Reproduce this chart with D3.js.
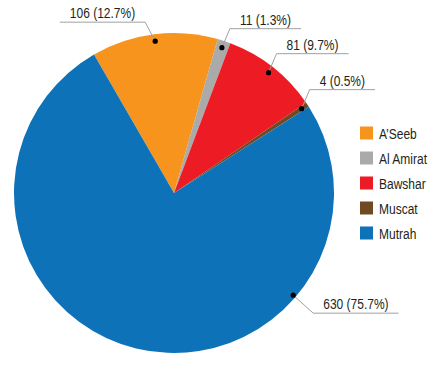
<!DOCTYPE html>
<html>
<head>
<meta charset="utf-8">
<script src="https://cdn.jsdelivr.net/npm/d3@7"></script>
<style>
  body{margin:0;background:#fff;}
  text{font-family:"Liberation Sans",Arial,sans-serif;fill:#231f20;}
</style>
</head>
<body>
<svg width="444" height="369"></svg>
<script>
const districts = ["A\u2019Seeb", "Al Amirat", "Bawshar", "Muscat", "Mutrah"];
const counts = [106, 11, 81, 4, 630];
const colours = ["#f7941d", "#aaaaaa", "#ed1c24", "#6f4a23", "#0e72b9"];

const svg = d3.select('svg');
const cx = 174, cy = 193, radius = 160;
const total = d3.sum(counts);
const deg = Math.PI / 180;
const squeeze = 0.8; // condensed look

const data = districts.map((d, i) => ({name: d, value: counts[i], colour: colours[i]}));

const pie = d3.pie()
  .sort(null)
  .value(d => d.value)
  .startAngle(-30 * deg)
  .endAngle(330 * deg);

const arc = d3.arc().innerRadius(0).outerRadius(radius);
const arcs = pie(data);

const g = svg.append('g').attr('transform', `translate(${cx},${cy})`);

g.selectAll('path.slice')
  .data(arcs)
  .enter()
  .append('path')
  .attr('class', 'slice')
  .attr('d', arc)
  .attr('fill', d => d.data.colour);

// label placement: big slice label is pushed down to the lower right
const labelAngle = d => d.data.name === 'Mutrah' ? 130.6 * deg : (d.startAngle + d.endAngle) / 2;
const pct = d3.format('.1f');

const labels = g.selectAll('g.lbl')
  .data(arcs)
  .enter()
  .append('g')
  .attr('class', 'lbl');

labels.each(function (d) {
  const a = labelAngle(d);
  const r = d.data.name === 'Mutrah' ? radius - 3 : radius - 7;
  const px = r * Math.sin(a), py = -r * Math.cos(a);
  const left = Math.sin(a) < 0;
  const down = Math.cos(a) < 0;
  const ex = px + (left ? -10 : (down ? 20 : 8));
  const ey = py + (down ? 18 : -19);
  const sel = d3.select(this);

  const txt = sel.append('text')
    .attr('font-size', 15)
    .attr('text-anchor', 'middle')
    .text(`${d.data.value} (${pct(d.data.value / total * 100)}%)`);
  const w = txt.node().getComputedTextLength() * squeeze + 20;
  const hx = left ? ex - w : ex + w;
  txt.attr('transform', `translate(${(ex + hx) / 2},${ey - 4}) scale(${squeeze},1)`);

  sel.insert('polyline', 'text')
    .attr('points', `${px},${py} ${ex},${ey} ${hx},${ey}`)
    .attr('fill', 'none')
    .attr('stroke', '#a0a0a0')
    .attr('stroke-width', 1);

  sel.append('circle')
    .attr('cx', px).attr('cy', py).attr('r', 2.6)
    .attr('fill', '#000');
});

// legend
const ly = d3.scalePoint().domain(districts).range([133, 233]);
const legend = svg.append('g');
const item = legend.selectAll('g')
  .data(data)
  .enter()
  .append('g')
  .attr('transform', d => `translate(360,${ly(d.name)})`);

item.append('rect')
  .attr('x', 0).attr('y', -6.5)
  .attr('width', 13).attr('height', 13)
  .attr('fill', d => d.colour);

item.append('text')
  .attr('transform', `translate(19,5.5) scale(${squeeze},1)`)
  .attr('font-size', 15)
  .text(d => d.name);
</script>
</body>
</html>
